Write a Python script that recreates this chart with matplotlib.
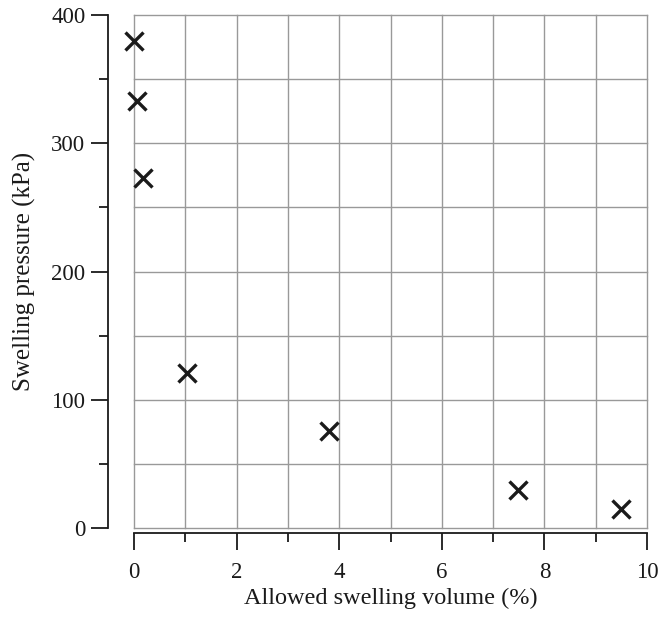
import matplotlib
matplotlib.use("Agg")
import matplotlib.pyplot as plt
from matplotlib.ticker import MultipleLocator

# allowed swelling volume (%) vs swelling pressure (kPa)
volume = [0.0, 0.06, 0.18, 1.03, 3.8, 7.49, 9.49]
pressure = [380, 333, 273, 121, 76, 30, 15]

x_major = [0, 2, 4, 6, 8, 10]
y_major = [0, 100, 200, 300, 400]

plt.rcParams["font.family"] = ["Liberation Serif", "DejaVu Serif"]
INK = "#1a1a1a"

fig = plt.figure(figsize=(6.6, 6.18), dpi=100)
ax = fig.add_axes([134 / 660, 90 / 618, 513 / 660, 513 / 618])

ax.set_xlim(0, 10)
ax.set_ylim(0, 400)
ax.set_xticks(x_major)
ax.set_yticks(y_major)
ax.xaxis.set_minor_locator(MultipleLocator(1))
ax.yaxis.set_minor_locator(MultipleLocator(50))

# grid: every unit in x, every 50 kPa in y, including the outer box
for v in range(0, 11):
    ax.axvline(v, color="#999999", lw=1.0, zorder=0, clip_on=False)
for v in range(0, 401, 50):
    ax.axhline(v, color="#999999", lw=1.0, zorder=0, clip_on=False)

ax.plot(volume, pressure, ls="none", marker="x", ms=12.5, mew=2.4,
        color=INK, zorder=3, clip_on=False)

for s in ("top", "right"):
    ax.spines[s].set_visible(False)
ax.spines["left"].set_position(("outward", 19))
ax.spines["bottom"].set_position(("outward", 3.6))
ax.spines["left"].set_bounds(0, 400)
ax.spines["bottom"].set_bounds(0, 10)
for s in ("left", "bottom"):
    ax.spines[s].set_color(INK)
    ax.spines[s].set_linewidth(1.3)

ax.tick_params(which="major", direction="out", length=12, width=1.3,
               color=INK, labelsize=16.5, labelcolor=INK)
ax.tick_params(which="minor", direction="out", length=6.5, width=1.3,
               color=INK)
ax.tick_params(axis="x", which="major", pad=9)
ax.tick_params(axis="y", which="major", pad=4)

ax.set_xlabel("Allowed swelling volume (%)", fontsize=17.5, color=INK, labelpad=3)
ax.set_ylabel("Swelling pressure (kPa)", fontsize=18, color=INK, labelpad=11)

fig.savefig("out.png", dpi=100)
